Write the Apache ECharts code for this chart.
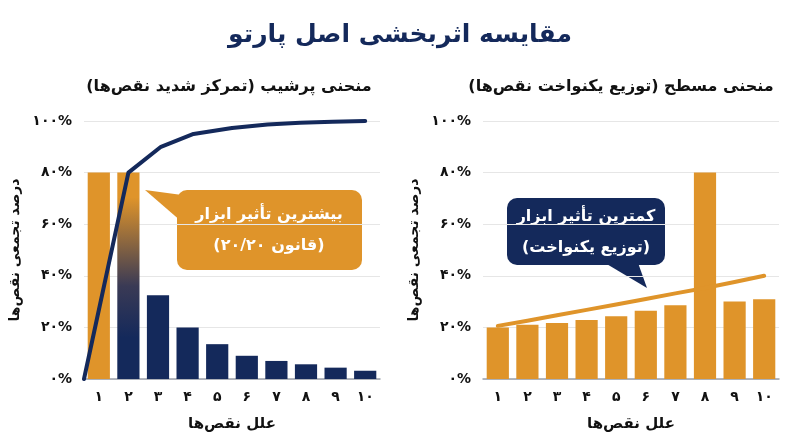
<!DOCTYPE html>
<html>
<head>
<meta charset="utf-8">
<script src="https://cdn.jsdelivr.net/npm/echarts@6/dist/echarts.min.js"></script>
<style>
  html, body { margin: 0; padding: 0; background: #fff; }
  #main { width: 800px; height: 447px; }
</style>
</head>
<body>
<div id="main" dir="rtl"></div>
<script>
// داده‌ها
const causes = ['۱', '۲', '۳', '۴', '۵', '۶', '۷', '۸', '۹', '۱۰']
const yTickLabels = ['۰%', '۲۰%', '۴۰%', '۶۰%', '۸۰%', '۱۰۰%']

// نمودار پرشیب
const steepBars = [80, 80, 32.5, 20, 13.5, 9, 7, 5.7, 4.4, 3.2]
const steepLineX = [0, 1.5, 2.6, 3.7, 5, 6.2, 7.3, 8.4, 9.5]
const steepLineY = [0, 80, 90, 95, 97.3, 98.6, 99.3, 99.7, 100]

// نمودار مسطح
const flatBars = [20, 21, 21.7, 22.9, 24.3, 26.5, 28.6, 80, 30, 30.9]
const flatLine = [20.6, 22.6, 24.7, 26.8, 28.9, 31, 33.2, 35.3, 37.6, 40]

const NAVY = '#14295b'
const ORANGE = '#df942a'
const FONT = 'DejaVu Sans'

let myChart = echarts.init(document.getElementById('main'))

// میله دوم با رنگ گرادیانی
let steepData = steepBars.map(function (v, i) {
    let color = NAVY
    if (i === 0) color = ORANGE
    if (i === 1) {
        color = new echarts.graphic.LinearGradient(0, 0, 0, 1, [
            { offset: 0, color: ORANGE },
            { offset: 0.12, color: ORANGE },
            { offset: 0.55, color: '#3a3a55' },
            { offset: 0.8, color: NAVY },
            { offset: 1, color: NAVY }
        ])
    }
    return { value: v, itemStyle: { color: color } }
})

let steepLine = steepLineX.map(function (x, i) {
    return [x, steepLineY[i]]
})

function yAxisOf(idx) {
    return {
        type: 'value',
        gridIndex: idx,
        min: 0,
        max: 100,
        interval: 20,
        name: 'درصد تجمعی نقص‌ها',
        nameLocation: 'middle',
        nameRotate: 90,
        nameGap: 62,
        nameTextStyle: { fontFamily: FONT, fontWeight: 'bold', fontSize: 14, color: '#111' },
        axisLine: { show: false },
        axisTick: { show: false },
        axisLabel: {
            fontFamily: FONT, fontWeight: 'bold', fontSize: 14, color: '#111', margin: 12,
            formatter: function (v) { return yTickLabels[v / 20] }
        },
        splitLine: { lineStyle: { color: '#e6e6e6', width: 1 } }
    }
}

function xAxisOf(idx) {
    return {
        type: 'category',
        gridIndex: idx,
        data: causes,
        name: 'علل نقص‌ها',
        nameLocation: 'middle',
        nameGap: 38,
        nameTextStyle: { fontFamily: FONT, fontWeight: 'bold', fontSize: 15, color: '#111' },
        axisTick: { show: false },
        axisLine: { lineStyle: { color: '#9aa0aa', width: 1.5 } },
        axisLabel: { fontFamily: FONT, fontWeight: 'bold', fontSize: 14, color: '#111', margin: 11 }
    }
}

// مستطیل راهنما با دنباله
function callout(box, tail, color, lines, cx, cy) {
    return {
        type: 'group',
        children: [
            { type: 'polygon', shape: { points: tail }, style: { fill: color } },
            { type: 'rect', shape: { x: box[0], y: box[1], width: box[2], height: box[3], r: 10 }, style: { fill: color } },
            {
                type: 'text', x: cx, y: cy,
                style: {
                    text: lines.join('\n'), fill: '#fff', align: 'center', verticalAlign: 'middle',
                    fontFamily: FONT, fontWeight: 'bold', fontSize: 16, lineHeight: 31
                }
            }
        ]
    }
}

let option = {
    backgroundColor: '#fff',
    title: [
        {
            text: 'مقایسه اثربخشی اصل پارتو', left: 'center', top: 18,
            textStyle: { fontFamily: FONT, fontWeight: 'bold', fontSize: 25, color: NAVY }
        },
        {
            text: 'منحنی پرشیب (تمرکز شدید نقص‌ها)', left: 224, top: 74, textAlign: 'center',
            textStyle: { fontFamily: FONT, fontWeight: 'bold', fontSize: 16, color: '#111' }
        },
        {
            text: 'منحنی مسطح (توزیع یکنواخت نقص‌ها)', left: 616, top: 74, textAlign: 'center',
            textStyle: { fontFamily: FONT, fontWeight: 'bold', fontSize: 16, color: '#111' }
        }
    ],
    grid: [
        { left: 84, right: 420, top: 121, bottom: 68 },
        { left: 483, right: 21, top: 121, bottom: 68 }
    ],
    xAxis: [
        xAxisOf(0),
        xAxisOf(1),
        { type: 'value', gridIndex: 0, min: 0, max: 10, show: false }
    ],
    yAxis: [yAxisOf(0), yAxisOf(1)],
    series: [
        {
            type: 'bar', xAxisIndex: 0, yAxisIndex: 0,
            barCategoryGap: '25%', data: steepData
        },
        {
            type: 'line', xAxisIndex: 2, yAxisIndex: 0,
            data: steepLine, symbol: 'none', z: 5,
            lineStyle: { color: NAVY, width: 4, cap: 'round', join: 'round' }
        },
        {
            type: 'bar', xAxisIndex: 1, yAxisIndex: 1,
            barCategoryGap: '25%', data: flatBars,
            itemStyle: { color: ORANGE }
        },
        {
            type: 'line', xAxisIndex: 1, yAxisIndex: 1,
            data: flatLine, symbol: 'none', z: 5,
            lineStyle: { color: ORANGE, width: 4, cap: 'round', join: 'round' }
        }
    ],
    graphic: [
        callout([177, 190, 185, 80], [[145, 190], [182, 195], [182, 222]], ORANGE,
            ['بیشترین تأثیر ابزار', '(قانون ۲۰/۲۰)'], 269, 230),
        callout([507, 198, 158, 67], [[600, 260], [637, 260], [647, 288]], NAVY,
            ['کمترین تأثیر ابزار', '(توزیع یکنواخت)'], 586, 232)
    ]
}

myChart.setOption(option)
</script>
</body>
</html>
